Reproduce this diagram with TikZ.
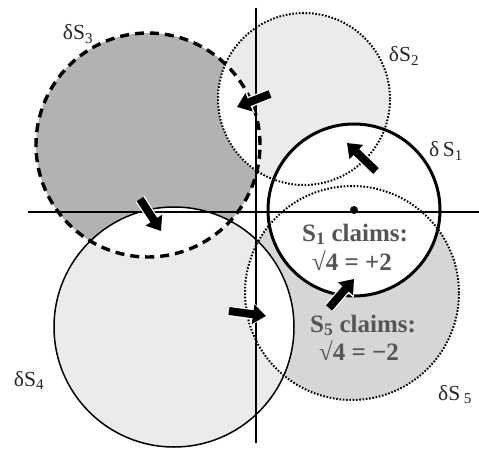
\documentclass[tikz,border=0pt]{standalone}
\usepackage{fontspec}
\setmainfont{Liberation Serif}
\usetikzlibrary{arrows.meta}
\definecolor{darkfill}{HTML}{B2B2B2}
\definecolor{lightfill}{HTML}{EBEBEB}
\definecolor{midfill}{HTML}{D6D6D6}
\definecolor{claimtext}{HTML}{555555}
\begin{document}
\begin{tikzpicture}[x=1pt,y=-1pt,
  lbl/.style={font=\fontsize{21.5}{23}\selectfont, text=black!85, inner sep=0, anchor=base},
  claim/.style={font=\fontsize{25}{27}\selectfont\bfseries, text=claimtext, inner sep=0, anchor=base},
  dotline/.style={line width=2pt, dash pattern=on 1.6pt off 1.7pt},
  dashline/.style={line width=3.4pt, dash pattern=on 9pt off 6pt},
  axisline/.style={line width=2.4pt},
  blockarrow/.style={line width=8pt, -{Triangle[width=19pt,length=13pt]}},
  halo/.style={line width=10.5pt, white, -{Triangle[width=23pt,length=16pt]}},
  ]
\useasboundingbox (0,0) rectangle (479,449);
% centres
\coordinate (c1) at (354,210);
\coordinate (c2) at (304,99);
\coordinate (c3) at (148,145);
\coordinate (c4) at (174,327);
\coordinate (c5) at (352,293);
% fills
\fill[darkfill] (c3) circle[radius=112pt];
\fill[lightfill] (c2) circle[radius=86pt];
\fill[lightfill] (c4) circle[radius=120pt];
\fill[midfill] (c5) circle[radius=107pt];
% overlaps are white
\begin{scope}
  \clip (c2) circle[radius=86pt];
  \fill[white] (c3) circle[radius=112pt];
\end{scope}
\begin{scope}
  \clip (c4) circle[radius=120pt];
  \fill[white] (c3) circle[radius=112pt];
\end{scope}
\begin{scope}
  \clip (c4) circle[radius=120pt];
  \fill[white] (c5) circle[radius=107pt];
\end{scope}
\fill[white] (c1) circle[radius=86pt];
% outlines
\draw[dashline] (c3) circle[radius=112pt];
\draw[dotline] (c2) circle[radius=86pt];
\draw[line width=1.5pt] (c4) circle[radius=120pt];
\draw[dotline] (c5) circle[radius=107pt];
\draw[line width=3pt] (c1) circle[radius=86pt];
% axes
\coordinate (hl) at (28,212);
\coordinate (hr) at (479,212);
\coordinate (vt) at (256,8);
\coordinate (vb) at (256,443);
\draw[axisline] (hl) -- (hr);
\draw[axisline] (vt) -- (vb);
\fill (c1) circle[radius=4pt];
% arrows
\coordinate (a1s) at (270,94);   \coordinate (a1e) at (237,107);
\coordinate (a2s) at (376,171);  \coordinate (a2e) at (347,143);
\coordinate (a3s) at (140,199);  \coordinate (a3e) at (161,231);
\coordinate (a4s) at (229,311);  \coordinate (a4e) at (266,316);
\coordinate (a5s) at (329,308);  \coordinate (a5e) at (354,279);
\foreach \s/\e in {a1s/a1e,a2s/a2e,a3s/a3e,a4s/a4e,a5s/a5e}{
  \draw[halo, shorten >=-1.5pt] (\s) -- (\e);
  \draw[blockarrow] (\s) -- (\e);
}
% labels
\node[lbl] (l3) at (78,40) {δS\textsubscript{3}};
\node[lbl] (l2) at (404,62) {δS\textsubscript{2}};
\node[lbl] (l1) at (446,157) {δ\,S\textsubscript{1}};
\node[lbl] (l4) at (29,386) {δS\textsubscript{4}};
\node[lbl] (l5) at (455,400) {δS\,\textsubscript{5}};
% claims
\node[claim] (t1) at (355,241) {S\textsubscript{1} claims:};
\node[claim] (t2) at (352,270) {√4 = +2};
\node[claim] (t3) at (363,332) {S\textsubscript{5} claims:};
\node[claim] (t4) at (359,360) {√4 = −2};
\end{tikzpicture}
\end{document}
